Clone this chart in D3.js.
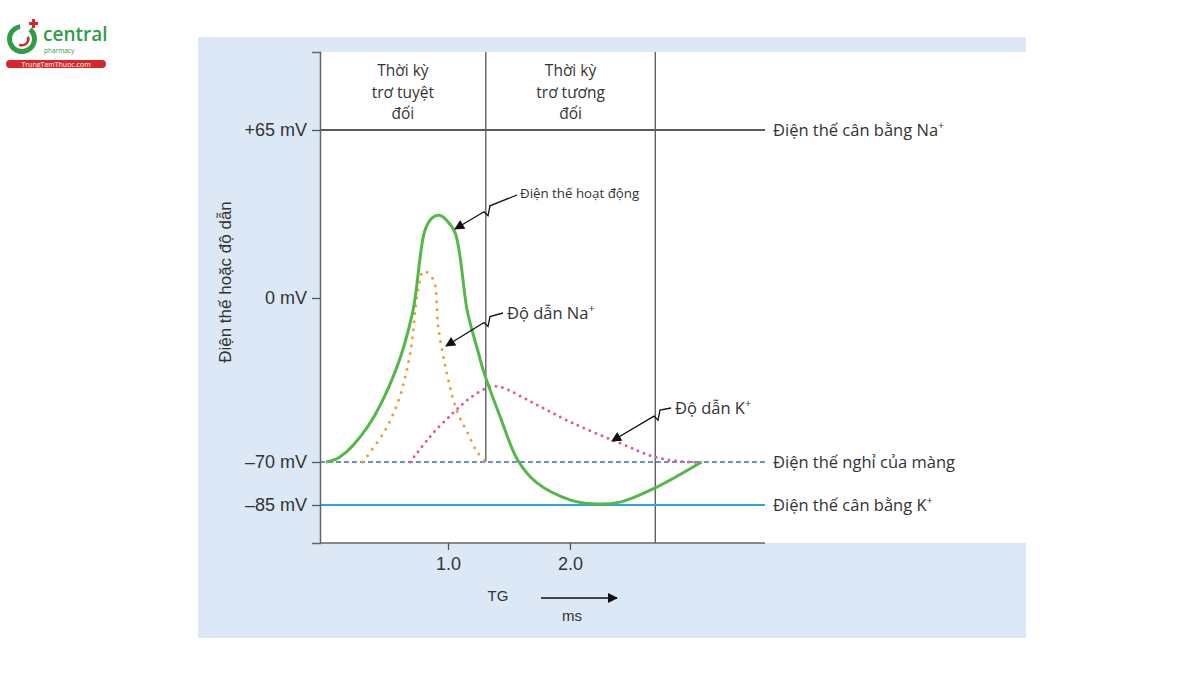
<!DOCTYPE html>
<html>
<head>
<meta charset="utf-8">
<script src="https://cdn.jsdelivr.net/npm/d3@7"></script>
<style>
  body { margin: 0; background: #fff; }
  text { font-family: "Open Sans", "Noto Sans", sans-serif; fill: #333; }
  .tick text, .axlab { font-family: "Liberation Sans", Arial, sans-serif; }
</style>
</head>
<body>
<div id="chart"></div>
<script>
// action potential (ms, mV)
var apT = [0, 0.11, 0.34, 0.57, 0.71, 0.81, 0.87, 0.93, 0.99, 1.06, 1.16, 1.25, 1.29, 1.43, 1.57, 1.73, 2.0, 2.19, 2.41, 2.70, 3.08];
var apV = [-70, -68, -55, -31, -6, 26, 31, 32, 30, 25, -6, -23.5, -31, -51, -69, -77.3, -83.2, -84.6, -84, -79, -70];
// Na conductance
var naT = [0.30, 0.47, 0.59, 0.69, 0.75, 0.80, 0.88, 0.92, 0.99, 1.07, 1.16, 1.24, 1.31];
var naV = [-70, -57.6, -44.4, -23.5, 1.9, 10.4, 7, -12.4, -32, -47.8, -57.6, -65.7, -70];
// K conductance
var kT = [0.69, 0.85, 1.04, 1.18, 1.34, 1.43, 1.70, 2.02, 2.41, 2.70, 2.96, 3.07];
var kV = [-70, -59.3, -49.1, -42.7, -38, -38, -44.8, -53.3, -61.9, -67.9, -70, -70];

var yTicks = [65, 0, -70, -85];
var yTickLabels = ["+65 mV", "0 mV", "\u201370 mV", "\u201385 mV"];
var xTicks = [1.0, 2.0];
var periodEdges = [1.31, 2.7];   // ms
var periodLabels = [["Thời kỳ", "trơ tuyệt", "đối"], ["Thời kỳ", "trơ tương", "đối"]];

var W = 1200, H = 675;
var svg = d3.select("#chart").append("svg").attr("width", W).attr("height", H);

// panel
svg.append("rect").attr("x", 198).attr("y", 37).attr("width", 828).attr("height", 601).attr("fill", "#dce8f5");
svg.append("rect").attr("x", 320).attr("y", 52).attr("width", 706).attr("height", 491).attr("fill", "#fff");

// scales (schematic, piecewise)
var x = d3.scaleLinear().domain([-0.05, 3.6]).range([320, 765]);
var y = d3.scaleLinear().domain([-98.3, -85, -70, 0, 65, 95]).range([543, 505, 462, 298, 130, 52]);

// period separators
svg.append("line").attr("x1", x(periodEdges[0])).attr("x2", x(periodEdges[0]))
  .attr("y1", 52).attr("y2", y(-70)).attr("stroke", "#555").attr("stroke-width", 1.3);
svg.append("line").attr("x1", x(periodEdges[1])).attr("x2", x(periodEdges[1]))
  .attr("y1", 52).attr("y2", 543).attr("stroke", "#555").attr("stroke-width", 1.3);

// reference lines
svg.append("line").attr("x1", 320).attr("x2", 765).attr("y1", y(65)).attr("y2", y(65))
  .attr("stroke", "#5a5a5a").attr("stroke-width", 2);
svg.append("line").attr("x1", 320).attr("x2", 765).attr("y1", y(-70)).attr("y2", y(-70))
  .attr("stroke", "#3b6fae").attr("stroke-width", 1.5).attr("stroke-dasharray", "5,3");
svg.append("line").attr("x1", 320).attr("x2", 765).attr("y1", y(-85)).attr("y2", y(-85))
  .attr("stroke", "#2ea3dc").attr("stroke-width", 2);

// axes
var yAxis = svg.append("g").attr("transform", "translate(320,0)")
  .call(d3.axisLeft(y).tickValues(yTicks).tickSize(8).tickPadding(5)
    .tickFormat(function(d, i) { return yTickLabels[i]; }));
var xAxis = svg.append("g").attr("transform", "translate(0,543)")
  .call(d3.axisBottom(x).tickValues(xTicks).tickSize(7).tickPadding(7).tickFormat(d3.format(".1f")));
[yAxis, xAxis].forEach(function(a) {
  a.selectAll("path.domain").attr("stroke", "#666").attr("stroke-width", 1.5);
  a.selectAll(".tick line").attr("stroke", "#555").attr("stroke-width", 1.3);
  a.selectAll(".tick text").attr("font-size", 18).attr("fill", "#333");
});
xAxis.select("path.domain").attr("d", "M320,0H765");

// curves
var line = d3.line().x(function(d) { return x(d[0]); }).y(function(d) { return y(d[1]); })
  .curve(d3.curveCatmullRom.alpha(0.5));

svg.append("path").datum(d3.zip(kT, kV)).attr("d", line).attr("fill", "none")
  .attr("stroke", "#e2589f").attr("stroke-width", 3).attr("stroke-linecap", "round")
  .attr("stroke-dasharray", "0,6.5");
svg.append("path").datum(d3.zip(naT, naV)).attr("d", line).attr("fill", "none")
  .attr("stroke", "#f39a3a").attr("stroke-width", 3).attr("stroke-linecap", "round")
  .attr("stroke-dasharray", "0,8");
svg.append("path").datum(d3.zip(apT, apV)).attr("d", line).attr("fill", "none")
  .attr("stroke", "#52b848").attr("stroke-width", 3);

// period labels
periodLabels.forEach(function(lines, i) {
  var cx = i === 0 ? (320 + x(periodEdges[0])) / 2 : (x(periodEdges[0]) + x(periodEdges[1])) / 2;
  lines.forEach(function(s, j) {
    svg.append("text").attr("x", cx).attr("y", 76 + j * 21.5).attr("text-anchor", "middle")
      .attr("font-size", 15.5).text(s);
  });
});

// labels with superscript
function supLabel(px, py, size, main, sup) {
  var t = svg.append("text").attr("x", px).attr("y", py).attr("font-size", size).text(main);
  if (sup) t.append("tspan").attr("font-size", size * 0.65).attr("dy", -size * 0.4).text(sup);
  return t;
}
supLabel(773, y(65) + 6, 16.5, "Điện thế cân bằng Na", "+");
supLabel(773, y(-70) + 6, 16.5, "Điện thế nghỉ của màng");
supLabel(773, y(-85) + 6, 16.5, "Điện thế cân bằng K", "+");

// zigzag arrows
svg.append("defs").append("marker").attr("id", "ah").attr("viewBox", "0 0 10 10")
  .attr("refX", 9).attr("refY", 5).attr("markerWidth", 13).attr("markerHeight", 10)
  .attr("markerUnits", "userSpaceOnUse").attr("orient", "auto")
  .append("path").attr("d", "M0,0L10,5L0,10z").attr("fill", "#111");

function zigArrow(x0, y0, x1, y1, xb) {
  var dx = x1 - x0, dy = y1 - y0, f = (xb + 4 - x0) / dx;
  var ax = x0 + dx * f, ay = y0 + dy * f - 4;
  var bx = ax - 2, by = ay + 10;
  var cx = bx - 4, cy = by - 4;
  svg.append("path").attr("d", "M" + x0 + "," + y0 + "L" + ax + "," + ay + "L" + bx + "," + by +
      "L" + cx + "," + cy + "L" + x1 + "," + y1)
    .attr("fill", "none").attr("stroke", "#111").attr("stroke-width", 1.3)
    .attr("stroke-linejoin", "miter").attr("marker-end", "url(#ah)");
}
zigArrow(517, 195, 455, 229, 486);
zigArrow(503, 313, 446, 346, 486);
zigArrow(671, 408, 612, 441, 656);

svg.append("text").attr("x", 520).attr("y", 198).attr("font-size", 13.3).text("Điện thế hoạt động");
supLabel(507, 319, 16.5, "Độ dẫn Na", "+");
supLabel(675, 414, 16.5, "Độ dẫn K", "+");

// axis titles
svg.append("text").attr("class", "axlab").attr("transform", "translate(231,282) rotate(-90)")
  .attr("text-anchor", "middle").attr("font-size", 17).text("Điện thế hoặc độ dẫn");
svg.append("text").attr("class", "axlab").attr("x", 498).attr("y", 601).attr("text-anchor", "middle")
  .attr("font-size", 15).text("TG");
svg.append("text").attr("class", "axlab").attr("x", 572).attr("y", 621).attr("text-anchor", "middle")
  .attr("font-size", 15).text("ms");
svg.append("line").attr("x1", 541).attr("x2", 617).attr("y1", 598).attr("y2", 598)
  .attr("stroke", "#111").attr("stroke-width", 1.3).attr("marker-end", "url(#ah)");

// logo
var logo = svg.append("g");
logo.append("path").attr("d", d3.arc()({innerRadius: 10, outerRadius: 15, startAngle: 0.7, endAngle: 2 * Math.PI - 0.15}))
  .attr("transform", "translate(22,39)").attr("fill", "#2f9d45");
logo.append("path").attr("d", d3.arc()({innerRadius: 5, outerRadius: 7.5, startAngle: 1.2, endAngle: 3.6}))
  .attr("transform", "translate(22,39)").attr("fill", "#d9262b");
logo.append("path").attr("d", "M29,22h3v-3h3v3h3v3h-3v3h-3v-3h-3z").attr("fill", "#d9262b");
logo.append("text").attr("x", 43).attr("y", 41).attr("font-size", 19).attr("font-weight", 600)
  .style("fill", "#2f9d45").text("central");
logo.append("text").attr("x", 44).attr("y", 53).attr("font-size", 6.5).style("fill", "#2f9d45").text("pharmacy");
logo.append("rect").attr("x", 6).attr("y", 60).attr("width", 100).attr("height", 8).attr("rx", 4).attr("fill", "#d9262b");
logo.append("text").attr("x", 56).attr("y", 66.5).attr("text-anchor", "middle").attr("font-size", 7)
  .style("fill", "#fff").text("TrungTamThuoc.com");
</script>
</body>
</html>
